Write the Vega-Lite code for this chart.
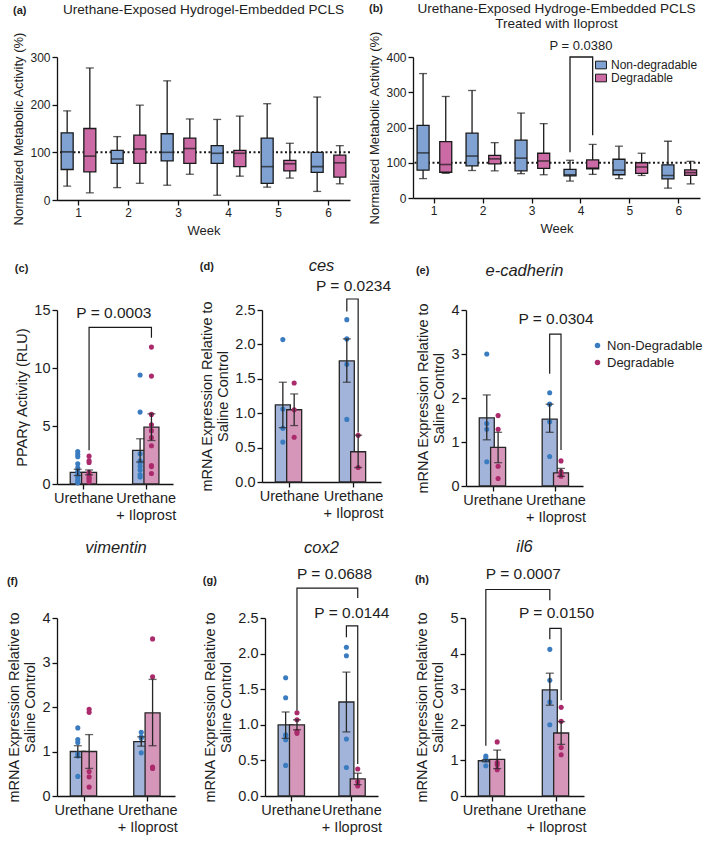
{
  "$schema": "https://vega.github.io/schema/vega-lite/v6.json",
  "background": "white",
  "padding": {"left": 6, "top": 2, "right": 2, "bottom": 2},
  "config": {
    "font": "Liberation Sans",
    "view": {"stroke": null},
    "axis": {"domainColor": "#111111", "domainWidth": 1.3, "tickColor": "#111111", "tickWidth": 1.3, "tickSize": 5, "labelFontSize": 14.5, "labelColor": "#1e1e1e", "titleFontSize": 14.5, "titleFontWeight": "normal", "titleColor": "#1e1e1e", "grid": false, "labelPadding": 2, "titlePadding": 4, "labelFlush": false, "labelOverlap": false, "titleLineHeight": 16},
    "axisX": {"labelAngle": 0},
    "title": {"font": "Liberation Sans", "fontWeight": "normal", "color": "#1e1e1e"},
    "legend": {"labelFont": "Liberation Sans", "labelColor": "#1e1e1e"}
  },
  "datasets": {
    "a_box": [
      {"week": 1, "material": "Non-degradable", "min": 29, "q1": 64, "median": 101, "q3": 141, "max": 187},
      {"week": 1, "material": "Degradable", "min": 15, "q1": 59, "median": 92, "q3": 150, "max": 277},
      {"week": 2, "material": "Non-degradable", "min": 26, "q1": 77, "median": 86, "q3": 104, "max": 133},
      {"week": 2, "material": "Degradable", "min": 35, "q1": 77, "median": 107, "q3": 136, "max": 199},
      {"week": 3, "material": "Non-degradable", "min": 31, "q1": 82, "median": 100, "q3": 139, "max": 250},
      {"week": 3, "material": "Degradable", "min": 54, "q1": 77, "median": 108, "q3": 130, "max": 170},
      {"week": 4, "material": "Non-degradable", "min": 10, "q1": 77, "median": 98, "q3": 114, "max": 169},
      {"week": 4, "material": "Degradable", "min": 50, "q1": 70, "median": 98, "q3": 104, "max": 176},
      {"week": 5, "material": "Non-degradable", "min": 27, "q1": 35, "median": 70, "q3": 130, "max": 202},
      {"week": 5, "material": "Degradable", "min": 46, "q1": 61, "median": 76, "q3": 83, "max": 119},
      {"week": 6, "material": "Non-degradable", "min": 18, "q1": 58, "median": 70, "q3": 100, "max": 216},
      {"week": 6, "material": "Degradable", "min": 34, "q1": 48, "median": 78, "q3": 94, "max": 114}
    ],
    "b_box": [
      {"week": 1, "material": "Non-degradable", "min": 55, "q1": 79, "median": 128, "q3": 206, "max": 353},
      {"week": 1, "material": "Degradable", "min": 70, "q1": 73, "median": 95, "q3": 160, "max": 288},
      {"week": 2, "material": "Non-degradable", "min": 78, "q1": 91, "median": 119, "q3": 184, "max": 305},
      {"week": 2, "material": "Degradable", "min": 77, "q1": 97, "median": 111, "q3": 121, "max": 157},
      {"week": 3, "material": "Non-degradable", "min": 69, "q1": 77, "median": 113, "q3": 164, "max": 241},
      {"week": 3, "material": "Degradable", "min": 66, "q1": 84, "median": 105, "q3": 127, "max": 211},
      {"week": 4, "material": "Non-degradable", "min": 48, "q1": 63, "median": 66, "q3": 81, "max": 107},
      {"week": 4, "material": "Degradable", "min": 67, "q1": 83, "median": 85, "q3": 108, "max": 152},
      {"week": 5, "material": "Non-degradable", "min": 55, "q1": 66, "median": 79, "q3": 110, "max": 147},
      {"week": 5, "material": "Degradable", "min": 64, "q1": 70, "median": 88, "q3": 100, "max": 127},
      {"week": 6, "material": "Non-degradable", "min": 28, "q1": 54, "median": 64, "q3": 94, "max": 161},
      {"week": 6, "material": "Degradable", "min": 40, "q1": 64, "median": 72, "q3": 80, "max": 104}
    ],
    "b_br": [
      {"id": "b1", "seq": 1, "week": 4, "material": "Non-degradable", "value": 130},
      {"id": "b1", "seq": 2, "week": 4, "material": "Non-degradable", "value": 400},
      {"id": "b1", "seq": 3, "week": 4, "material": "Degradable", "value": 400},
      {"id": "b1", "seq": 4, "week": 4, "material": "Degradable", "value": 178}
    ],
    "b_p": [{"week": 4, "pos": 431, "label": "P = 0.0380"}],
    "c_bar": [
      {"group": "Urethane", "material": "Non-Degradable", "mean": 1.0, "lo": 0.73, "hi": 1.27},
      {"group": "Urethane", "material": "Degradable", "mean": 1.0, "lo": 0.79, "hi": 1.21},
      {"group": "Urethane + Iloprost", "material": "Non-Degradable", "mean": 2.9, "lo": 1.9, "hi": 3.9},
      {"group": "Urethane + Iloprost", "material": "Degradable", "mean": 4.9, "lo": 3.75, "hi": 6.05}
    ],
    "c_pt": [
      {"group": "Urethane", "material": "Non-Degradable", "value": 2.8},
      {"group": "Urethane", "material": "Non-Degradable", "value": 2.55},
      {"group": "Urethane", "material": "Non-Degradable", "value": 2.35},
      {"group": "Urethane", "material": "Non-Degradable", "value": 1.75},
      {"group": "Urethane", "material": "Non-Degradable", "value": 1.4},
      {"group": "Urethane", "material": "Non-Degradable", "value": 1.1},
      {"group": "Urethane", "material": "Non-Degradable", "value": 0.8},
      {"group": "Urethane", "material": "Non-Degradable", "value": 0.55},
      {"group": "Urethane", "material": "Non-Degradable", "value": 0.35},
      {"group": "Urethane", "material": "Non-Degradable", "value": 0.2},
      {"group": "Urethane", "material": "Non-Degradable", "value": 0.1},
      {"group": "Urethane", "material": "Degradable", "value": 2.4},
      {"group": "Urethane", "material": "Degradable", "value": 2.0},
      {"group": "Urethane", "material": "Degradable", "value": 1.85},
      {"group": "Urethane", "material": "Degradable", "value": 1.0},
      {"group": "Urethane", "material": "Degradable", "value": 0.8},
      {"group": "Urethane", "material": "Degradable", "value": 0.6},
      {"group": "Urethane", "material": "Degradable", "value": 0.5},
      {"group": "Urethane", "material": "Degradable", "value": 0.35},
      {"group": "Urethane", "material": "Degradable", "value": 0.2},
      {"group": "Urethane + Iloprost", "material": "Non-Degradable", "value": 9.4},
      {"group": "Urethane + Iloprost", "material": "Non-Degradable", "value": 6.2},
      {"group": "Urethane + Iloprost", "material": "Non-Degradable", "value": 2.6},
      {"group": "Urethane + Iloprost", "material": "Non-Degradable", "value": 2.0},
      {"group": "Urethane + Iloprost", "material": "Non-Degradable", "value": 1.8},
      {"group": "Urethane + Iloprost", "material": "Non-Degradable", "value": 1.5},
      {"group": "Urethane + Iloprost", "material": "Non-Degradable", "value": 1.2},
      {"group": "Urethane + Iloprost", "material": "Non-Degradable", "value": 0.8},
      {"group": "Urethane + Iloprost", "material": "Non-Degradable", "value": 0.6},
      {"group": "Urethane + Iloprost", "material": "Degradable", "value": 11.8},
      {"group": "Urethane + Iloprost", "material": "Degradable", "value": 9.3},
      {"group": "Urethane + Iloprost", "material": "Degradable", "value": 6.0},
      {"group": "Urethane + Iloprost", "material": "Degradable", "value": 5.1},
      {"group": "Urethane + Iloprost", "material": "Degradable", "value": 4.6},
      {"group": "Urethane + Iloprost", "material": "Degradable", "value": 4.0},
      {"group": "Urethane + Iloprost", "material": "Degradable", "value": 3.3},
      {"group": "Urethane + Iloprost", "material": "Degradable", "value": 1.6},
      {"group": "Urethane + Iloprost", "material": "Degradable", "value": 1.5},
      {"group": "Urethane + Iloprost", "material": "Degradable", "value": 0.9}
    ],
    "c_br": [
      {"id": "c1", "seq": 1, "group": "Urethane", "material": "Degradable", "value": 2.9},
      {"id": "c1", "seq": 2, "group": "Urethane", "material": "Degradable", "value": 13.5},
      {"id": "c1", "seq": 3, "group": "Urethane + Iloprost", "material": "Degradable", "value": 13.5},
      {"id": "c1", "seq": 4, "group": "Urethane + Iloprost", "material": "Degradable", "value": 12.6}
    ],
    "c_p": [{"group": "Urethane + Iloprost", "material": "Degradable", "pos": 14.7, "label": "P = 0.0003"}],
    "d_bar": [
      {"group": "Urethane", "material": "Non-Degradable", "mean": 1.12, "lo": 0.79, "hi": 1.45},
      {"group": "Urethane", "material": "Degradable", "mean": 1.05, "lo": 0.82, "hi": 1.28},
      {"group": "Urethane + Iloprost", "material": "Non-Degradable", "mean": 1.76, "lo": 1.45, "hi": 2.08},
      {"group": "Urethane + Iloprost", "material": "Degradable", "mean": 0.44, "lo": 0.21, "hi": 0.68}
    ],
    "d_pt": [
      {"group": "Urethane", "material": "Non-Degradable", "value": 2.07},
      {"group": "Urethane", "material": "Non-Degradable", "value": 1.06},
      {"group": "Urethane", "material": "Non-Degradable", "value": 0.78},
      {"group": "Urethane", "material": "Non-Degradable", "value": 0.58},
      {"group": "Urethane", "material": "Degradable", "value": 1.44},
      {"group": "Urethane", "material": "Degradable", "value": 1.05},
      {"group": "Urethane", "material": "Degradable", "value": 0.65},
      {"group": "Urethane + Iloprost", "material": "Non-Degradable", "value": 2.36},
      {"group": "Urethane + Iloprost", "material": "Non-Degradable", "value": 2.08},
      {"group": "Urethane + Iloprost", "material": "Non-Degradable", "value": 1.71},
      {"group": "Urethane + Iloprost", "material": "Non-Degradable", "value": 0.91},
      {"group": "Urethane + Iloprost", "material": "Degradable", "value": 0.68},
      {"group": "Urethane + Iloprost", "material": "Degradable", "value": 0.21}
    ],
    "d_br": [
      {"id": "d1", "seq": 1, "group": "Urethane + Iloprost", "material": "Non-Degradable", "value": 2.48},
      {"id": "d1", "seq": 2, "group": "Urethane + Iloprost", "material": "Non-Degradable", "value": 2.66},
      {"id": "d1", "seq": 3, "group": "Urethane + Iloprost", "material": "Degradable", "value": 2.66},
      {"id": "d1", "seq": 4, "group": "Urethane + Iloprost", "material": "Degradable", "value": 0.72}
    ],
    "d_p": [{"group": "Urethane + Iloprost", "pos": 2.85, "label": "P = 0.0234"}],
    "e_bar": [
      {"group": "Urethane", "material": "Non-Degradable", "mean": 1.55, "lo": 1.05, "hi": 2.07},
      {"group": "Urethane", "material": "Degradable", "mean": 0.88, "lo": 0.53, "hi": 1.22},
      {"group": "Urethane + Iloprost", "material": "Non-Degradable", "mean": 1.52, "lo": 1.22, "hi": 1.86},
      {"group": "Urethane + Iloprost", "material": "Degradable", "mean": 0.3, "lo": 0.22, "hi": 0.4}
    ],
    "e_pt": [
      {"group": "Urethane", "material": "Non-Degradable", "value": 3.0},
      {"group": "Urethane", "material": "Non-Degradable", "value": 1.42},
      {"group": "Urethane", "material": "Non-Degradable", "value": 1.29},
      {"group": "Urethane", "material": "Non-Degradable", "value": 0.55},
      {"group": "Urethane", "material": "Degradable", "value": 1.6},
      {"group": "Urethane", "material": "Degradable", "value": 1.29},
      {"group": "Urethane", "material": "Degradable", "value": 0.45},
      {"group": "Urethane", "material": "Degradable", "value": 0.17},
      {"group": "Urethane + Iloprost", "material": "Non-Degradable", "value": 2.12},
      {"group": "Urethane + Iloprost", "material": "Non-Degradable", "value": 1.86},
      {"group": "Urethane + Iloprost", "material": "Non-Degradable", "value": 1.46},
      {"group": "Urethane + Iloprost", "material": "Non-Degradable", "value": 0.67},
      {"group": "Urethane + Iloprost", "material": "Degradable", "value": 0.57},
      {"group": "Urethane + Iloprost", "material": "Degradable", "value": 0.33},
      {"group": "Urethane + Iloprost", "material": "Degradable", "value": 0.27},
      {"group": "Urethane + Iloprost", "material": "Degradable", "value": 0.22}
    ],
    "e_br": [
      {"id": "e1", "seq": 1, "group": "Urethane + Iloprost", "material": "Non-Degradable", "value": 2.55},
      {"id": "e1", "seq": 2, "group": "Urethane + Iloprost", "material": "Non-Degradable", "value": 3.45},
      {"id": "e1", "seq": 3, "group": "Urethane + Iloprost", "material": "Degradable", "value": 3.45},
      {"id": "e1", "seq": 4, "group": "Urethane + Iloprost", "material": "Degradable", "value": 0.82}
    ],
    "e_p": [{"group": "Urethane + Iloprost", "pos": 3.8, "label": "P = 0.0304"}],
    "f_bar": [
      {"group": "Urethane", "material": "Non-Degradable", "mean": 1.0, "lo": 0.87, "hi": 1.13},
      {"group": "Urethane", "material": "Degradable", "mean": 1.0, "lo": 0.62, "hi": 1.38},
      {"group": "Urethane + Iloprost", "material": "Non-Degradable", "mean": 1.22, "lo": 1.12, "hi": 1.33},
      {"group": "Urethane + Iloprost", "material": "Degradable", "mean": 1.87, "lo": 1.13, "hi": 2.62}
    ],
    "f_pt": [
      {"group": "Urethane", "material": "Non-Degradable", "value": 1.53},
      {"group": "Urethane", "material": "Non-Degradable", "value": 1.27},
      {"group": "Urethane", "material": "Non-Degradable", "value": 1.2},
      {"group": "Urethane", "material": "Non-Degradable", "value": 0.95},
      {"group": "Urethane", "material": "Non-Degradable", "value": 0.9},
      {"group": "Urethane", "material": "Non-Degradable", "value": 0.44},
      {"group": "Urethane", "material": "Degradable", "value": 1.95},
      {"group": "Urethane", "material": "Degradable", "value": 1.88},
      {"group": "Urethane", "material": "Degradable", "value": 0.55},
      {"group": "Urethane", "material": "Degradable", "value": 0.43},
      {"group": "Urethane", "material": "Degradable", "value": 0.2},
      {"group": "Urethane + Iloprost", "material": "Non-Degradable", "value": 1.43},
      {"group": "Urethane + Iloprost", "material": "Non-Degradable", "value": 1.33},
      {"group": "Urethane + Iloprost", "material": "Non-Degradable", "value": 1.3},
      {"group": "Urethane + Iloprost", "material": "Non-Degradable", "value": 0.97},
      {"group": "Urethane + Iloprost", "material": "Degradable", "value": 3.53},
      {"group": "Urethane + Iloprost", "material": "Degradable", "value": 2.68},
      {"group": "Urethane + Iloprost", "material": "Degradable", "value": 0.65},
      {"group": "Urethane + Iloprost", "material": "Degradable", "value": 0.62}
    ],
    "g_bar": [
      {"group": "Urethane", "material": "Non-Degradable", "mean": 1.0, "lo": 0.81, "hi": 1.18},
      {"group": "Urethane", "material": "Degradable", "mean": 1.0, "lo": 0.93, "hi": 1.07},
      {"group": "Urethane + Iloprost", "material": "Non-Degradable", "mean": 1.32, "lo": 0.9, "hi": 1.74},
      {"group": "Urethane + Iloprost", "material": "Degradable", "mean": 0.24, "lo": 0.16, "hi": 0.32}
    ],
    "g_pt": [
      {"group": "Urethane", "material": "Non-Degradable", "value": 1.66},
      {"group": "Urethane", "material": "Non-Degradable", "value": 1.38},
      {"group": "Urethane", "material": "Non-Degradable", "value": 0.86},
      {"group": "Urethane", "material": "Non-Degradable", "value": 0.85},
      {"group": "Urethane", "material": "Non-Degradable", "value": 0.79},
      {"group": "Urethane", "material": "Non-Degradable", "value": 0.43},
      {"group": "Urethane", "material": "Degradable", "value": 1.17},
      {"group": "Urethane", "material": "Degradable", "value": 1.07},
      {"group": "Urethane", "material": "Degradable", "value": 0.91},
      {"group": "Urethane", "material": "Degradable", "value": 0.88},
      {"group": "Urethane + Iloprost", "material": "Non-Degradable", "value": 2.09},
      {"group": "Urethane + Iloprost", "material": "Non-Degradable", "value": 1.97},
      {"group": "Urethane + Iloprost", "material": "Non-Degradable", "value": 0.8},
      {"group": "Urethane + Iloprost", "material": "Non-Degradable", "value": 0.4},
      {"group": "Urethane + Iloprost", "material": "Degradable", "value": 0.38},
      {"group": "Urethane + Iloprost", "material": "Degradable", "value": 0.2},
      {"group": "Urethane + Iloprost", "material": "Degradable", "value": 0.14}
    ],
    "g_br": [
      {"id": "g1", "seq": 1, "group": "Urethane", "material": "Degradable", "value": 1.2},
      {"id": "g1", "seq": 2, "group": "Urethane", "material": "Degradable", "value": 2.92},
      {"id": "g1", "seq": 3, "group": "Urethane + Iloprost", "material": "Degradable", "value": 2.92},
      {"id": "g1", "seq": 4, "group": "Urethane + Iloprost", "material": "Degradable", "value": 2.78},
      {"id": "g2", "seq": 1, "group": "Urethane + Iloprost", "material": "Non-Degradable", "value": 2.23},
      {"id": "g2", "seq": 2, "group": "Urethane + Iloprost", "material": "Non-Degradable", "value": 2.39},
      {"id": "g2", "seq": 3, "group": "Urethane + Iloprost", "material": "Degradable", "value": 2.39},
      {"id": "g2", "seq": 4, "group": "Urethane + Iloprost", "material": "Degradable", "value": 0.45}
    ],
    "g_p_span": [{"group": "Urethane", "material": "Degradable", "pos": 3.12, "label": "P = 0.0688"}],
    "g_p": [{"group": "Urethane + Iloprost", "pos": 2.57, "label": "P = 0.0144"}],
    "h_bar": [
      {"group": "Urethane", "material": "Non-Degradable", "mean": 0.99, "lo": 0.96, "hi": 1.02},
      {"group": "Urethane", "material": "Degradable", "mean": 1.03, "lo": 0.77, "hi": 1.29},
      {"group": "Urethane + Iloprost", "material": "Non-Degradable", "mean": 2.98, "lo": 2.55, "hi": 3.45},
      {"group": "Urethane + Iloprost", "material": "Degradable", "mean": 1.77, "lo": 1.45, "hi": 2.09}
    ],
    "h_pt": [
      {"group": "Urethane", "material": "Non-Degradable", "value": 1.12},
      {"group": "Urethane", "material": "Non-Degradable", "value": 1.05},
      {"group": "Urethane", "material": "Non-Degradable", "value": 1.02},
      {"group": "Urethane", "material": "Non-Degradable", "value": 0.85},
      {"group": "Urethane", "material": "Degradable", "value": 1.52},
      {"group": "Urethane", "material": "Degradable", "value": 0.94},
      {"group": "Urethane", "material": "Degradable", "value": 0.88},
      {"group": "Urethane", "material": "Degradable", "value": 0.74},
      {"group": "Urethane + Iloprost", "material": "Non-Degradable", "value": 4.12},
      {"group": "Urethane + Iloprost", "material": "Non-Degradable", "value": 3.25},
      {"group": "Urethane + Iloprost", "material": "Non-Degradable", "value": 2.64},
      {"group": "Urethane + Iloprost", "material": "Non-Degradable", "value": 2.0},
      {"group": "Urethane + Iloprost", "material": "Degradable", "value": 2.49},
      {"group": "Urethane + Iloprost", "material": "Degradable", "value": 2.1},
      {"group": "Urethane + Iloprost", "material": "Degradable", "value": 1.36},
      {"group": "Urethane + Iloprost", "material": "Degradable", "value": 1.16}
    ],
    "h_br": [
      {"id": "h1", "seq": 1, "group": "Urethane", "material": "Non-Degradable", "value": 1.41},
      {"id": "h1", "seq": 2, "group": "Urethane", "material": "Non-Degradable", "value": 5.8},
      {"id": "h1", "seq": 3, "group": "Urethane + Iloprost", "material": "Non-Degradable", "value": 5.8},
      {"id": "h1", "seq": 4, "group": "Urethane + Iloprost", "material": "Non-Degradable", "value": 5.5},
      {"id": "h2", "seq": 1, "group": "Urethane + Iloprost", "material": "Non-Degradable", "value": 4.4},
      {"id": "h2", "seq": 2, "group": "Urethane + Iloprost", "material": "Non-Degradable", "value": 4.71},
      {"id": "h2", "seq": 3, "group": "Urethane + Iloprost", "material": "Degradable", "value": 4.71},
      {"id": "h2", "seq": 4, "group": "Urethane + Iloprost", "material": "Degradable", "value": 2.69}
    ],
    "h_p_span": [{"group": "Urethane", "material": "Non-Degradable", "pos": 6.24, "label": "P = 0.0007"}],
    "h_p": [{"group": "Urethane + Iloprost", "pos": 5.14, "label": "P = 0.0150"}]
  },
  "spacing": 21,
  "resolve": {"scale": {"color": "independent", "fill": "independent"}, "legend": {"color": "independent", "fill": "independent"}},
  "vconcat": [
    {
      "hconcat": [
        {
          "title": {"text": "(a)", "anchor": "start", "frame": "bounds", "fontSize": 11, "fontWeight": "bold", "offset": 0, "dy": 13},
          "resolve": {"scale": {"color": "independent", "fill": "independent"}, "legend": {"color": "independent", "fill": "independent"}},
          "vconcat": [
            {
              "width": 293, "height": 143,
              "title": {"text": "Urethane-Exposed Hydrogel-Embedded PCLS", "fontSize": 13.6, "offset": 15},
              "layer": [
                {"data": {"values": [{"ref": 100}]}, "mark": {"type": "rule", "strokeDash": [2, 2.5], "strokeWidth": 2, "color": "#1a1a1a"}, "encoding": {"y": {"field": "ref", "type": "quantitative"}}},
                {
                  "data": {"name": "a_box"},
                  "encoding": {
                    "x": {"field": "week", "type": "ordinal", "title": "Week", "scale": {"paddingInner": 0.32, "paddingOuter": 0.09}, "axis": {"labelFontSize": 12, "titleFontSize": 13, "titlePadding": 6}},
                    "xOffset": {"field": "material", "type": "nominal", "sort": ["Non-degradable", "Degradable"]}
                  },
                  "layer": [
                    {"mark": {"type": "rule", "color": "#1a1a1a", "strokeWidth": 1.3}, "encoding": {"y": {"field": "min", "type": "quantitative", "scale": {"domain": [0, 300], "nice": false}, "axis": {"values": [0, 100, 200, 300], "tickCount": 4, "title": "Normalized Metabolic Activity (%)", "labelFontSize": 12, "titleFontSize": 13}}, "y2": {"field": "max"}}},
                    {"mark": {"type": "bar", "width": 12, "stroke": "#1a1a1a", "strokeWidth": 1.3}, "encoding": {"y": {"field": "q1", "type": "quantitative"}, "y2": {"field": "q3"}, "fill": {"field": "material", "type": "nominal", "scale": {"domain": ["Non-degradable", "Degradable"], "range": ["#7fa2d2", "#cc6aa5"]}, "legend": null}}},
                    {"mark": {"type": "tick", "size": 12, "thickness": 1.6, "color": "#1a1a1a"}, "encoding": {"y": {"field": "median", "type": "quantitative"}}},
                    {"transform": [{"fold": ["min", "max"], "as": ["end", "val"]}], "mark": {"type": "tick", "size": 8, "thickness": 1.3, "color": "#1a1a1a"}, "encoding": {"y": {"field": "val", "type": "quantitative"}}}
                  ]
                }
              ]
            }
          ]
        },
        {
          "title": {"text": "(b)", "anchor": "start", "frame": "bounds", "fontSize": 11, "fontWeight": "bold", "offset": 0, "dy": 12},
          "resolve": {"scale": {"color": "independent", "fill": "independent"}, "legend": {"color": "independent", "fill": "independent"}},
          "vconcat": [
            {
              "width": 287, "height": 141,
              "title": {"text": ["Urethane-Exposed Hydroge-Embedded PCLS", "Treated with Iloprost"], "fontSize": 13.6, "lineHeight": 15, "offset": 0},
              "layer": [
                {"data": {"values": [{"ref": 100}]}, "mark": {"type": "rule", "strokeDash": [2, 2.5], "strokeWidth": 2, "color": "#1a1a1a"}, "encoding": {"y": {"field": "ref", "type": "quantitative"}}},
                {
                  "encoding": {
                    "x": {"field": "week", "type": "ordinal", "title": "Week", "scale": {"paddingInner": 0.32, "paddingOuter": 0.09}, "axis": {"labelFontSize": 12, "titleFontSize": 13, "titlePadding": 6}},
                    "xOffset": {"field": "material", "type": "nominal", "sort": ["Non-degradable", "Degradable"]}
                  },
                  "layer": [
                    {"data": {"name": "b_box"}, "mark": {"type": "rule", "color": "#1a1a1a", "strokeWidth": 1.3}, "encoding": {"y": {"field": "min", "type": "quantitative", "scale": {"domain": [0, 400], "nice": false}, "axis": {"values": [0, 100, 200, 300, 400], "tickCount": 5, "title": "Normalized Metabolic Activity (%)", "labelFontSize": 12, "titleFontSize": 13}}, "y2": {"field": "max"}}},
                    {"data": {"name": "b_box"}, "mark": {"type": "bar", "width": 12, "stroke": "#1a1a1a", "strokeWidth": 1.3}, "encoding": {"y": {"field": "q1", "type": "quantitative"}, "y2": {"field": "q3"}, "fill": {"field": "material", "type": "nominal", "scale": {"domain": ["Non-degradable", "Degradable"], "range": ["#7fa2d2", "#cc6aa5"]}, "legend": {"orient": "top-right", "title": null, "offset": 2, "padding": 0, "symbolType": "M-1,-0.7H1V0.7H-1Z", "symbolSize": 120, "symbolStrokeColor": "#1a1a1a", "symbolStrokeWidth": 1, "labelFontSize": 12, "labelOffset": 4, "rowPadding": 1}}}},
                    {"data": {"name": "b_box"}, "mark": {"type": "tick", "size": 12, "thickness": 1.6, "color": "#1a1a1a"}, "encoding": {"y": {"field": "median", "type": "quantitative"}}},
                    {"data": {"name": "b_box"}, "transform": [{"fold": ["min", "max"], "as": ["end", "val"]}], "mark": {"type": "tick", "size": 8, "thickness": 1.3, "color": "#1a1a1a"}, "encoding": {"y": {"field": "val", "type": "quantitative"}}},
                    {"data": {"name": "b_br"}, "mark": {"type": "line", "color": "#1a1a1a", "strokeWidth": 1.3}, "encoding": {"y": {"field": "value", "type": "quantitative"}, "order": {"field": "seq", "type": "quantitative"}, "detail": {"field": "id", "type": "nominal"}}}
                  ]
                },
                {"data": {"name": "b_p"}, "mark": {"type": "text", "fontSize": 13, "baseline": "middle", "color": "#1e1e1e"}, "encoding": {"x": {"field": "week", "type": "ordinal"}, "y": {"field": "pos", "type": "quantitative"}, "text": {"field": "label"}}}
              ]
            }
          ]
        }
      ],
      "spacing": 17,
      "resolve": {"scale": {"color": "independent", "fill": "independent"}, "legend": {"color": "independent", "fill": "independent"}}
    },
    {
      "spacing": 15,
      "resolve": {"scale": {"color": "independent", "fill": "independent"}, "legend": {"color": "independent", "fill": "independent"}},
      "vconcat": [
        {
          "spacing": 23,
          "resolve": {"scale": {"color": "independent", "fill": "independent"}, "legend": {"color": "independent", "fill": "independent"}},
          "hconcat": [
            {
              "title": {"text": "(c)", "anchor": "start", "frame": "bounds", "fontSize": 11, "fontWeight": "bold", "offset": 28},
              "resolve": {"scale": {"color": "independent", "fill": "independent"}, "legend": {"color": "independent", "fill": "independent"}},
              "vconcat": [
                {
                  "width": 116, "height": 174,
                  "layer": [
                    {
                      "encoding": {
                        "x": {"field": "group", "type": "nominal", "sort": ["Urethane", "Urethane + Iloprost"], "title": null, "scale": {"paddingInner": 0.26, "paddingOuter": 0.06}, "axis": {"labelExpr": "datum.label == 'Urethane + Iloprost' ? ['Urethane', '+ Iloprost'] : datum.label", "labelLineHeight": 17}},
                        "xOffset": {"field": "material", "type": "nominal", "sort": ["Non-Degradable", "Degradable"]}
                      },
                      "layer": [
                        {"data": {"name": "c_bar"}, "mark": {"type": "bar", "width": 15, "stroke": "#262626", "strokeWidth": 1.3}, "encoding": {"y": {"field": "mean", "type": "quantitative", "scale": {"domain": [0, 15], "nice": false}, "axis": {"values": [0, 5, 10, 15], "tickCount": 4, "title": "PPARγ Activity (RLU)"}}, "fill": {"field": "material", "type": "nominal", "scale": {"domain": ["Non-Degradable", "Degradable"], "range": ["#a2b4da", "#d696b9"]}, "legend": null}}},
                        {"data": {"name": "c_pt"}, "mark": {"type": "circle", "size": 26, "opacity": 1}, "encoding": {"y": {"field": "value", "type": "quantitative"}, "color": {"field": "material", "type": "nominal", "scale": {"domain": ["Non-Degradable", "Degradable"], "range": ["#3b7cc0", "#aa2a6c"]}, "legend": null}}},
                        {"data": {"name": "c_bar"}, "mark": {"type": "rule", "color": "#262626", "strokeWidth": 1.3}, "encoding": {"y": {"field": "lo", "type": "quantitative"}, "y2": {"field": "hi"}}},
                        {"data": {"name": "c_bar"}, "transform": [{"fold": ["lo", "hi"], "as": ["end", "val"]}], "mark": {"type": "tick", "size": 8, "thickness": 1.3, "color": "#262626"}, "encoding": {"y": {"field": "val", "type": "quantitative"}}},
                        {"data": {"name": "c_br"}, "mark": {"type": "line", "color": "#1a1a1a", "strokeWidth": 1.2}, "encoding": {"y": {"field": "value", "type": "quantitative"}, "order": {"field": "seq", "type": "quantitative"}, "detail": {"field": "id", "type": "nominal"}}}
                      ]
                    },
                    {"data": {"name": "c_p"}, "mark": {"type": "text", "fontSize": 15.5, "align": "right", "baseline": "middle", "color": "#1e1e1e"}, "encoding": {"x": {"field": "group", "type": "nominal", "sort": ["Urethane", "Urethane + Iloprost"]}, "xOffset": {"field": "material", "type": "nominal", "sort": ["Non-Degradable", "Degradable"]}, "y": {"field": "pos", "type": "quantitative"}, "text": {"field": "label"}}}
                  ]
                }
              ]
            },
            {
              "title": {"text": "(d)", "anchor": "start", "frame": "bounds", "fontSize": 11, "fontWeight": "bold", "offset": 0, "dy": 14},
              "resolve": {"scale": {"color": "independent", "fill": "independent"}, "legend": {"color": "independent", "fill": "independent"}},
              "vconcat": [
                {
                  "width": 119, "height": 172,
                  "title": {"text": "ces", "fontSize": 16.5, "fontStyle": "italic", "offset": 4},
                  "layer": [
                    {
                      "encoding": {
                        "x": {"field": "group", "type": "nominal", "sort": ["Urethane", "Urethane + Iloprost"], "title": null, "scale": {"paddingInner": 0.26, "paddingOuter": 0.06}, "axis": {"labelExpr": "datum.label == 'Urethane + Iloprost' ? ['Urethane', '+ Iloprost'] : datum.label", "labelLineHeight": 17}},
                        "xOffset": {"field": "material", "type": "nominal", "sort": ["Non-Degradable", "Degradable"]}
                      },
                      "layer": [
                        {"data": {"name": "d_bar"}, "mark": {"type": "bar", "width": 15, "stroke": "#262626", "strokeWidth": 1.3}, "encoding": {"y": {"field": "mean", "type": "quantitative", "scale": {"domain": [0, 2.5], "nice": false}, "axis": {"values": [0, 0.5, 1, 1.5, 2, 2.5], "tickCount": 6, "format": ".1f", "title": ["mRNA Expression Relative to", "Saline Control"]}}, "fill": {"field": "material", "type": "nominal", "scale": {"domain": ["Non-Degradable", "Degradable"], "range": ["#a2b4da", "#d696b9"]}, "legend": null}}},
                        {"data": {"name": "d_pt"}, "mark": {"type": "circle", "size": 26, "opacity": 1}, "encoding": {"y": {"field": "value", "type": "quantitative"}, "color": {"field": "material", "type": "nominal", "scale": {"domain": ["Non-Degradable", "Degradable"], "range": ["#3b7cc0", "#aa2a6c"]}, "legend": null}}},
                        {"data": {"name": "d_bar"}, "mark": {"type": "rule", "color": "#262626", "strokeWidth": 1.3}, "encoding": {"y": {"field": "lo", "type": "quantitative"}, "y2": {"field": "hi"}}},
                        {"data": {"name": "d_bar"}, "transform": [{"fold": ["lo", "hi"], "as": ["end", "val"]}], "mark": {"type": "tick", "size": 8, "thickness": 1.3, "color": "#262626"}, "encoding": {"y": {"field": "val", "type": "quantitative"}}},
                        {"data": {"name": "d_br"}, "mark": {"type": "line", "color": "#1a1a1a", "strokeWidth": 1.2}, "encoding": {"y": {"field": "value", "type": "quantitative"}, "order": {"field": "seq", "type": "quantitative"}, "detail": {"field": "id", "type": "nominal"}}}
                      ]
                    },
                    {"data": {"name": "d_p"}, "mark": {"type": "text", "fontSize": 15.5, "baseline": "middle", "color": "#1e1e1e"}, "encoding": {"x": {"field": "group", "type": "nominal", "sort": ["Urethane", "Urethane + Iloprost"]}, "y": {"field": "pos", "type": "quantitative"}, "text": {"field": "label"}}}
                  ]
                }
              ]
            },
            {
              "title": {"text": "(e)", "anchor": "start", "frame": "bounds", "fontSize": 11, "fontWeight": "bold", "offset": 0, "dy": 13},
              "resolve": {"scale": {"color": "independent", "fill": "independent"}, "legend": {"color": "independent", "fill": "independent"}},
              "vconcat": [
                {
                  "width": 117, "height": 176,
                  "title": {"text": "e-cadherin", "fontSize": 16.5, "fontStyle": "italic", "offset": 23},
                  "layer": [
                    {
                      "encoding": {
                        "x": {"field": "group", "type": "nominal", "sort": ["Urethane", "Urethane + Iloprost"], "title": null, "scale": {"paddingInner": 0.26, "paddingOuter": 0.06}, "axis": {"labelExpr": "datum.label == 'Urethane + Iloprost' ? ['Urethane', '+ Iloprost'] : datum.label", "labelLineHeight": 17}},
                        "xOffset": {"field": "material", "type": "nominal", "sort": ["Non-Degradable", "Degradable"]}
                      },
                      "layer": [
                        {"data": {"name": "e_bar"}, "mark": {"type": "bar", "width": 15, "stroke": "#262626", "strokeWidth": 1.3}, "encoding": {"y": {"field": "mean", "type": "quantitative", "scale": {"domain": [0, 4], "nice": false}, "axis": {"values": [0, 1, 2, 3, 4], "tickCount": 5, "title": ["mRNA Expression Relative to", "Saline Control"]}}, "fill": {"field": "material", "type": "nominal", "sort": ["Non-Degradable", "Degradable"], "scale": {"range": ["#a2b4da", "#d696b9"]}, "legend": null}}},
                        {"data": {"name": "e_pt"}, "mark": {"type": "circle", "size": 26, "opacity": 1}, "encoding": {"y": {"field": "value", "type": "quantitative"}, "color": {"field": "material", "type": "nominal", "scale": {"domain": ["Non-Degradable", "Degradable"], "range": ["#3b7cc0", "#aa2a6c"]}, "legend": {"orient": "none", "legendX": 125, "legendY": 29, "padding": 0, "title": null, "symbolType": "circle", "symbolSize": 30, "labelFontSize": 13, "labelOffset": 3, "rowPadding": 3}}}},
                        {"data": {"name": "e_bar"}, "mark": {"type": "rule", "color": "#262626", "strokeWidth": 1.3}, "encoding": {"y": {"field": "lo", "type": "quantitative"}, "y2": {"field": "hi"}}},
                        {"data": {"name": "e_bar"}, "transform": [{"fold": ["lo", "hi"], "as": ["end", "val"]}], "mark": {"type": "tick", "size": 8, "thickness": 1.3, "color": "#262626"}, "encoding": {"y": {"field": "val", "type": "quantitative"}}},
                        {"data": {"name": "e_br"}, "mark": {"type": "line", "color": "#1a1a1a", "strokeWidth": 1.2}, "encoding": {"y": {"field": "value", "type": "quantitative"}, "order": {"field": "seq", "type": "quantitative"}, "detail": {"field": "id", "type": "nominal"}}}
                      ]
                    },
                    {"data": {"name": "e_p"}, "mark": {"type": "text", "fontSize": 15.5, "baseline": "middle", "color": "#1e1e1e"}, "encoding": {"x": {"field": "group", "type": "nominal", "sort": ["Urethane", "Urethane + Iloprost"]}, "y": {"field": "pos", "type": "quantitative"}, "text": {"field": "label"}}}
                  ]
                }
              ]
            }
          ]
        },
        {
          "spacing": 24,
          "resolve": {"scale": {"color": "independent", "fill": "independent"}, "legend": {"color": "independent", "fill": "independent"}},
          "hconcat": [
            {
              "title": {"text": "(f)", "anchor": "start", "frame": "bounds", "fontSize": 11, "fontWeight": "bold", "offset": 0, "dy": 47},
              "resolve": {"scale": {"color": "independent", "fill": "independent"}, "legend": {"color": "independent", "fill": "independent"}},
              "vconcat": [
                {
                  "width": 118, "height": 178,
                  "title": {"text": "vimentin", "fontSize": 16.5, "fontStyle": "italic", "offset": 54},
                  "layer": [
                    {
                      "encoding": {
                        "x": {"field": "group", "type": "nominal", "sort": ["Urethane", "Urethane + Iloprost"], "title": null, "scale": {"paddingInner": 0.26, "paddingOuter": 0.06}, "axis": {"labelExpr": "datum.label == 'Urethane + Iloprost' ? ['Urethane', '+ Iloprost'] : datum.label", "labelLineHeight": 17}},
                        "xOffset": {"field": "material", "type": "nominal", "sort": ["Non-Degradable", "Degradable"]}
                      },
                      "layer": [
                        {"data": {"name": "f_bar"}, "mark": {"type": "bar", "width": 15, "stroke": "#262626", "strokeWidth": 1.3}, "encoding": {"y": {"field": "mean", "type": "quantitative", "scale": {"domain": [0, 4], "nice": false}, "axis": {"values": [0, 1, 2, 3, 4], "tickCount": 5, "title": ["mRNA Expression Relative to", "Saline Control"]}}, "fill": {"field": "material", "type": "nominal", "scale": {"domain": ["Non-Degradable", "Degradable"], "range": ["#a2b4da", "#d696b9"]}, "legend": null}}},
                        {"data": {"name": "f_pt"}, "mark": {"type": "circle", "size": 26, "opacity": 1}, "encoding": {"y": {"field": "value", "type": "quantitative"}, "color": {"field": "material", "type": "nominal", "scale": {"domain": ["Non-Degradable", "Degradable"], "range": ["#3b7cc0", "#aa2a6c"]}, "legend": null}}},
                        {"data": {"name": "f_bar"}, "mark": {"type": "rule", "color": "#262626", "strokeWidth": 1.3}, "encoding": {"y": {"field": "lo", "type": "quantitative"}, "y2": {"field": "hi"}}},
                        {"data": {"name": "f_bar"}, "transform": [{"fold": ["lo", "hi"], "as": ["end", "val"]}], "mark": {"type": "tick", "size": 8, "thickness": 1.3, "color": "#262626"}, "encoding": {"y": {"field": "val", "type": "quantitative"}}}
                      ]
                    }
                  ]
                }
              ]
            },
            {
              "title": {"text": "(g)", "anchor": "start", "frame": "bounds", "fontSize": 11, "fontWeight": "bold", "offset": 0, "dy": 46},
              "resolve": {"scale": {"color": "independent", "fill": "independent"}, "legend": {"color": "independent", "fill": "independent"}},
              "vconcat": [
                {
                  "width": 113, "height": 178,
                  "title": {"text": "cox2", "fontSize": 16.5, "fontStyle": "italic", "offset": 10},
                  "layer": [
                    {
                      "encoding": {
                        "x": {"field": "group", "type": "nominal", "sort": ["Urethane", "Urethane + Iloprost"], "title": null, "scale": {"paddingInner": 0.26, "paddingOuter": 0.06}, "axis": {"labelExpr": "datum.label == 'Urethane + Iloprost' ? ['Urethane', '+ Iloprost'] : datum.label", "labelLineHeight": 17}},
                        "xOffset": {"field": "material", "type": "nominal", "sort": ["Non-Degradable", "Degradable"]}
                      },
                      "layer": [
                        {"data": {"name": "g_bar"}, "mark": {"type": "bar", "width": 15, "stroke": "#262626", "strokeWidth": 1.3}, "encoding": {"y": {"field": "mean", "type": "quantitative", "scale": {"domain": [0, 2.5], "nice": false}, "axis": {"values": [0, 0.5, 1, 1.5, 2, 2.5], "tickCount": 6, "format": ".1f", "title": ["mRNA Expression Relative to", "Saline Control"]}}, "fill": {"field": "material", "type": "nominal", "scale": {"domain": ["Non-Degradable", "Degradable"], "range": ["#a2b4da", "#d696b9"]}, "legend": null}}},
                        {"data": {"name": "g_pt"}, "mark": {"type": "circle", "size": 26, "opacity": 1}, "encoding": {"y": {"field": "value", "type": "quantitative"}, "color": {"field": "material", "type": "nominal", "scale": {"domain": ["Non-Degradable", "Degradable"], "range": ["#3b7cc0", "#aa2a6c"]}, "legend": null}}},
                        {"data": {"name": "g_bar"}, "mark": {"type": "rule", "color": "#262626", "strokeWidth": 1.3}, "encoding": {"y": {"field": "lo", "type": "quantitative"}, "y2": {"field": "hi"}}},
                        {"data": {"name": "g_bar"}, "transform": [{"fold": ["lo", "hi"], "as": ["end", "val"]}], "mark": {"type": "tick", "size": 8, "thickness": 1.3, "color": "#262626"}, "encoding": {"y": {"field": "val", "type": "quantitative"}}},
                        {"data": {"name": "g_br"}, "mark": {"type": "line", "color": "#1a1a1a", "strokeWidth": 1.2}, "encoding": {"y": {"field": "value", "type": "quantitative"}, "order": {"field": "seq", "type": "quantitative"}, "detail": {"field": "id", "type": "nominal"}}},
                        {"data": {"name": "g_p_span"}, "mark": {"type": "text", "fontSize": 15.5, "align": "left", "baseline": "middle", "color": "#1e1e1e"}, "encoding": {"y": {"field": "pos", "type": "quantitative"}, "text": {"field": "label"}}}
                      ]
                    },
                    {"data": {"name": "g_p"}, "mark": {"type": "text", "fontSize": 15.5, "baseline": "middle", "color": "#1e1e1e"}, "encoding": {"x": {"field": "group", "type": "nominal", "sort": ["Urethane", "Urethane + Iloprost"]}, "y": {"field": "pos", "type": "quantitative"}, "text": {"field": "label"}}}
                  ]
                }
              ]
            },
            {
              "title": {"text": "(h)", "anchor": "start", "frame": "bounds", "fontSize": 11, "fontWeight": "bold", "offset": 0, "dy": 46},
              "resolve": {"scale": {"color": "independent", "fill": "independent"}, "legend": {"color": "independent", "fill": "independent"}},
              "vconcat": [
                {
                  "width": 119, "height": 178,
                  "title": {"text": "il6", "fontSize": 16.5, "fontStyle": "italic", "offset": 11},
                  "layer": [
                    {
                      "encoding": {
                        "x": {"field": "group", "type": "nominal", "sort": ["Urethane", "Urethane + Iloprost"], "title": null, "scale": {"paddingInner": 0.26, "paddingOuter": 0.06}, "axis": {"labelExpr": "datum.label == 'Urethane + Iloprost' ? ['Urethane', '+ Iloprost'] : datum.label", "labelLineHeight": 17}},
                        "xOffset": {"field": "material", "type": "nominal", "sort": ["Non-Degradable", "Degradable"]}
                      },
                      "layer": [
                        {"data": {"name": "h_bar"}, "mark": {"type": "bar", "width": 15, "stroke": "#262626", "strokeWidth": 1.3}, "encoding": {"y": {"field": "mean", "type": "quantitative", "scale": {"domain": [0, 5], "nice": false}, "axis": {"values": [0, 1, 2, 3, 4, 5], "tickCount": 6, "title": ["mRNA Expression Relative to", "Saline Control"]}}, "fill": {"field": "material", "type": "nominal", "scale": {"domain": ["Non-Degradable", "Degradable"], "range": ["#a2b4da", "#d696b9"]}, "legend": null}}},
                        {"data": {"name": "h_pt"}, "mark": {"type": "circle", "size": 26, "opacity": 1}, "encoding": {"y": {"field": "value", "type": "quantitative"}, "color": {"field": "material", "type": "nominal", "scale": {"domain": ["Non-Degradable", "Degradable"], "range": ["#3b7cc0", "#aa2a6c"]}, "legend": null}}},
                        {"data": {"name": "h_bar"}, "mark": {"type": "rule", "color": "#262626", "strokeWidth": 1.3}, "encoding": {"y": {"field": "lo", "type": "quantitative"}, "y2": {"field": "hi"}}},
                        {"data": {"name": "h_bar"}, "transform": [{"fold": ["lo", "hi"], "as": ["end", "val"]}], "mark": {"type": "tick", "size": 8, "thickness": 1.3, "color": "#262626"}, "encoding": {"y": {"field": "val", "type": "quantitative"}}},
                        {"data": {"name": "h_br"}, "mark": {"type": "line", "color": "#1a1a1a", "strokeWidth": 1.2}, "encoding": {"y": {"field": "value", "type": "quantitative"}, "order": {"field": "seq", "type": "quantitative"}, "detail": {"field": "id", "type": "nominal"}}},
                        {"data": {"name": "h_p_span"}, "mark": {"type": "text", "fontSize": 15.5, "align": "left", "baseline": "middle", "color": "#1e1e1e"}, "encoding": {"y": {"field": "pos", "type": "quantitative"}, "text": {"field": "label"}}}
                      ]
                    },
                    {"data": {"name": "h_p"}, "mark": {"type": "text", "fontSize": 15.5, "baseline": "middle", "color": "#1e1e1e"}, "encoding": {"x": {"field": "group", "type": "nominal", "sort": ["Urethane", "Urethane + Iloprost"]}, "y": {"field": "pos", "type": "quantitative"}, "text": {"field": "label"}}}
                  ]
                }
              ]
            }
          ]
        }
      ]
    }
  ]
}
